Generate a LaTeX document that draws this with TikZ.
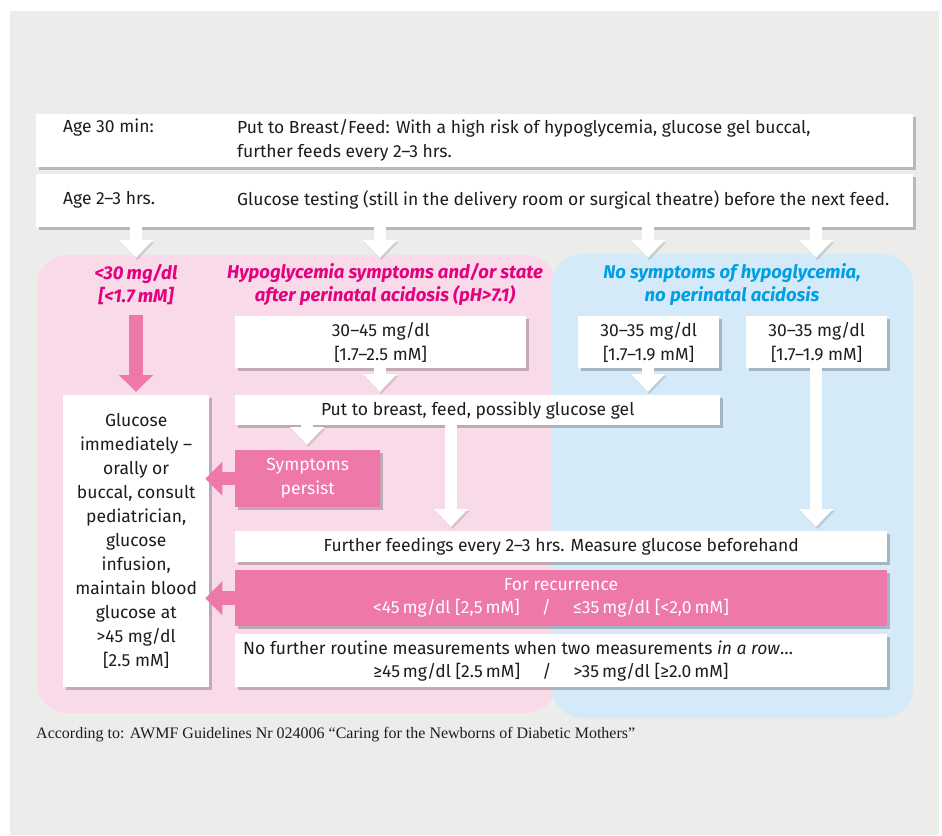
\documentclass[tikz,border=0pt]{standalone}
\usepackage{fontspec}
\setmainfont{Fira Sans}
\newfontfamily\footfont{Liberation Serif}
\usetikzlibrary{arrows.meta,shadows}
\definecolor{bggray}{HTML}{ECEDEB}
\definecolor{pinkreg}{HTML}{F9DAE9}
\definecolor{bluereg}{HTML}{D4EAF9}
\definecolor{pinkbox}{HTML}{EE78AA}
\definecolor{magtext}{HTML}{E5007E}
\definecolor{bluetext}{HTML}{009FE3}
\definecolor{txt}{HTML}{1D1D1B}
\tikzset{
  body/.style={font=\fontsize{17.5}{24}\selectfont, text=txt},
  shad/.style={drop shadow={shadow xshift=2.5pt, shadow yshift=-3pt, opacity=0.22, fill=black}},
  wbox/.style={fill=white, anchor=north west, inner sep=0pt, body, align=center, shad},
  pbox/.style={wbox, fill=pinkbox, text=white},
  plain/.style={inner sep=0pt, body},
  hdrP/.style={inner sep=0pt, font=\fontsize{18.5}{23.5}\selectfont\bfseries\itshape, text=magtext, align=center},
  hdrB/.style={hdrP, text=bluetext},
  warrow/.style={draw=white, line width=12pt, -{Triangle[width=33pt,length=18pt]},
    preaction={draw=black, opacity=0.12, transform canvas={shift={(1.5pt,-2pt)}}}},
  parrow/.style={draw=pinkbox, line width=13.5pt, -{Triangle[width=33pt,length=17pt]}},
}
\begin{document}
\begin{tikzpicture}[x=1pt,y=-1pt]
\useasboundingbox (0,0) rectangle (942,835);
\fill[bggray] (10,11) rectangle (939,835);
% regions
\fill[pinkreg, rounded corners=30pt] (37,255) rectangle (556,713);
\fill[bluereg, rounded corners=30pt] (552,254) rectangle (913,718);
% top boxes
\node[wbox, minimum width=877pt, minimum height=53pt] (b1) at (36,114) {};
\node[wbox, minimum width=877pt, minimum height=53pt] (b2) at (36,174) {};
\node[plain, anchor=west] (b1a) at (63,128) {Age 30 min:};
\node[plain, anchor=west, align=left] (b1b) at (237,140.5) {Put to Breast/Feed: With a high risk of hypoglycemia, glucose gel buccal,\\further feeds every 2–3 hrs.};
\node[plain, anchor=west] (b2a) at (63,200) {Age 2–3 hrs.};
\node[plain, anchor=west] (b2b) at (237,200) {Glucose testing (still in the delivery room or surgical theatre) before the next feed.};
% headers
\node[hdrP] (h1) at (136,284.5) {<30\,mg/dl\\{}[<1.7\,mM]};
\node[hdrP] (h2) at (385,284.5) {Hypoglycemia symptoms and/or state\\after perinatal acidosis (pH>7.1)};
\node[hdrB] (h3) at (732,284.5) {No symptoms of hypoglycemia,\\no perinatal acidosis};
% value boxes
\node[wbox, minimum width=291pt, minimum height=52pt] (v1) at (235,316) {30–45 mg/dl\\{}[1.7–2.5 mM]};
\node[wbox, minimum width=141pt, minimum height=52pt] (v2) at (578,316) {30–35 mg/dl\\{}[1.7–1.9 mM]};
\node[wbox, minimum width=141pt, minimum height=52pt] (v3) at (746,316) {30–35 mg/dl\\{}[1.7–1.9 mM]};
% put to breast
\node[wbox, minimum width=485pt, minimum height=30pt] (pb) at (235,395) {Put to breast, feed, possibly glucose gel};
% glucose box
\node[wbox, minimum width=146pt, minimum height=292pt] (g) at (63,395) {Glucose\\immediately –\\orally or\\buccal, consult\\pediatrician,\\glucose\\infusion,\\maintain blood\\glucose at\\>45 mg/dl\\{}[2.5 mM]};
% symptoms persist
\node[pbox, minimum width=145pt, minimum height=57pt] (sp) at (235,450) {Symptoms\\persist};
% further feedings
\node[wbox, minimum width=652pt, minimum height=31pt] (ff) at (235,531) {Further feedings every 2–3 hrs. Measure glucose beforehand};
% recurrence
\node[pbox, minimum width=652pt, minimum height=56pt] (rc) at (235,570) {};
\node[plain, text=white] (rc1) at (561,585) {For recurrence};
\node[plain, text=white] (rc2) at (551,608) {<45\,mg/dl [2,5\,mM]\quad\ /\ \quad≤35\,mg/dl [<2,0\,mM]};
% no further
\node[wbox, minimum width=652pt, minimum height=53pt] (nf) at (235,634) {};
\node[plain, anchor=west] (nf1) at (243,648) {No further routine measurements when two measurements \textit{in a row}…};
\node[plain] (nf2) at (551,672) {≥45\,mg/dl [2.5\,mM]\quad\ /\ \quad>35\,mg/dl [≥2.0\,mM]};
% footer
\node[inner sep=0pt, anchor=west, font=\footfont\fontsize{16}{18}\selectfont, text=txt] (ft) at (36,735) {According to: AWMF Guidelines Nr 024006 “Caring for the Newborns of Diabetic Mothers”};
% arrow end points
\coordinate (t1) at (136,258);
\coordinate (t2) at (380,258);
\coordinate (t3) at (648,258);
\coordinate (t4) at (816,258);
\coordinate (p1) at (136,315);
\coordinate (s1) at (307,0);
\coordinate (s2) at (451,0);
\coordinate (s3) at (816,365);
% arrows
\draw[warrow] (b2.south -| t1) -- (t1);
\draw[warrow] (b2.south -| t2) -- (t2);
\draw[warrow] (b2.south -| t3) -- (t3);
\draw[warrow] (b2.south -| t4) -- (t4);
\draw[parrow] (p1) -- ([yshift=3pt]p1 |- g.north);
\draw[warrow] (v1.south -| t2) -- ([yshift=3pt]pb.north -| t2);
\draw[warrow] (v2.south -| t3) -- ([yshift=3pt]pb.north -| t3);
\draw[warrow] (pb.south -| s1) -- ([yshift=5pt]sp.north -| s1);
\draw[warrow] (pb.south -| s2) -- ([yshift=4pt]ff.north -| s2);
\draw[warrow] (s3) -- ([yshift=4pt]ff.north -| s3);
\draw[parrow, shorten >=-4pt] (sp.west) -- (sp.west -| g.east);
\draw[parrow, shorten >=-4pt] (rc.west) -- (rc.west -| g.east);
\end{tikzpicture}
\end{document}
